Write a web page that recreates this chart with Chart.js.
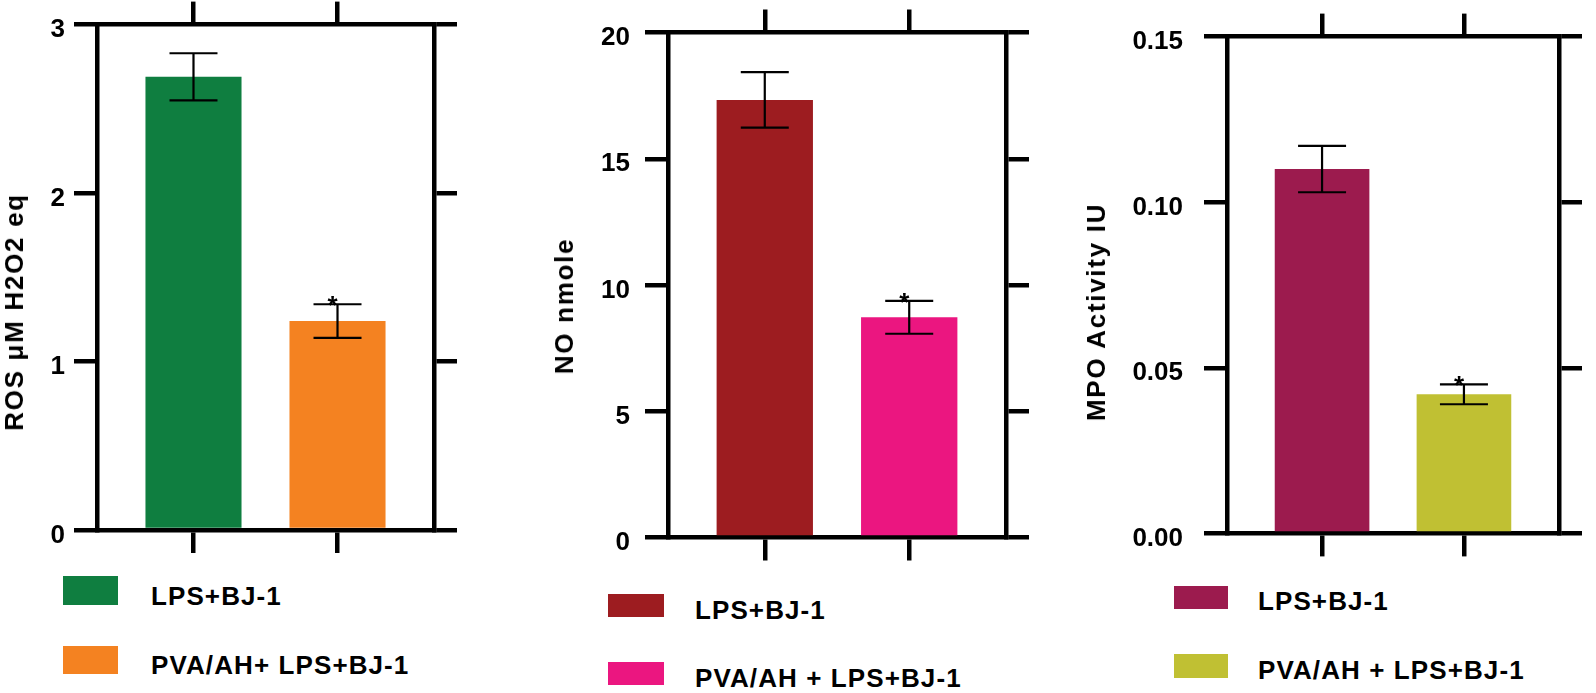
<!DOCTYPE html>
<html>
<head>
<meta charset="utf-8">
<script src="https://cdn.jsdelivr.net/npm/chart.js@4.4.1/dist/chart.umd.min.js"></script>
<style>
  html, body { margin: 0; padding: 0; background: #fff; }
  #wrap { position: relative; width: 1596px; height: 693px; overflow: hidden;
          font-family: "Liberation Sans", Arial, sans-serif; font-weight: bold; color: #000; }
  canvas { position: absolute; top: 0; }
  .ytitle { position: absolute; font-size: 26px; line-height: 26px; letter-spacing: 1.7px;
            white-space: nowrap; transform: translate(-50%, -50%) rotate(-90deg); }
  .swatch { position: absolute; }
  .ltext { position: absolute; font-size: 26px; line-height: 26px; letter-spacing: 1.1px; white-space: nowrap; }
</style>
</head>
<body>
<div id="wrap">
  <canvas id="chart1" width="470" height="560" style="left:0px"></canvas>
  <canvas id="chart2" width="500" height="570" style="left:540px"></canvas>
  <canvas id="chart3" width="496" height="570" style="left:1100px"></canvas>
</div>
<script>
// groups (legend entries, one bar each)
var groupsRos = ['LPS+BJ-1', 'PVA/AH+ LPS+BJ-1'];
var groupsNo = ['LPS+BJ-1', 'PVA/AH + LPS+BJ-1'];
var groupsMpo = ['LPS+BJ-1', 'PVA/AH + LPS+BJ-1'];

// means and error (+/-)
var rosMean = [2.69, 1.24];
var rosErr = [0.14, 0.10];
var noMean = [17.33, 8.72];
var noErr = [1.1, 0.65];
var mpoMean = [0.110, 0.042];
var mpoErr = [0.007, 0.003];
var starred = [false, true];

// y tick labels
var rosTicks = [0, 1, 2, 3];
var noTicks = [0, 5, 10, 15, 20];
var mpoTicks = [0, 0.05, 0.10, 0.15];

var rosColors = ['#0F7E40', '#F48221'];
var noColors = ['#9D1C20', '#EB1680'];
var mpoColors = ['#9C1B4E', '#C0C033'];

Chart.defaults.font.family = '"Liberation Sans", Arial, sans-serif';
Chart.defaults.color = '#000';

var errorBars = {
    id: 'errorBars',
    afterDatasetsDraw: function(chart, args, opts) {
        var ctx = chart.ctx;
        var y = chart.scales.y;
        var ds = chart.data.datasets[0];
        chart.getDatasetMeta(0).data.forEach(function(bar, i) {
            var v = ds.data[i].y;
            var top = y.getPixelForValue(v + opts.errors[i]);
            var bot = y.getPixelForValue(v - opts.errors[i]);
            ctx.save();
            ctx.strokeStyle = '#000';
            ctx.lineWidth = 2.2;
            ctx.beginPath();
            ctx.moveTo(bar.x, top); ctx.lineTo(bar.x, bot);
            ctx.moveTo(bar.x - 24, top); ctx.lineTo(bar.x + 24, top);
            ctx.moveTo(bar.x - 24, bot); ctx.lineTo(bar.x + 24, bot);
            ctx.stroke();
            if (opts.stars[i]) {
                ctx.fillStyle = '#000';
                ctx.font = 'bold 26px "Liberation Sans", Arial, sans-serif';
                ctx.textAlign = 'center';
                ctx.textBaseline = 'alphabetic';
                ctx.fillText('*', bar.x - 5, top + 10);
            }
            ctx.restore();
        });
    }
};

function axis(pos, min, max, tickVals, size, labels, pad, fmt) {
    return {
        type: 'linear',
        position: pos,
        min: min,
        max: max,
        offset: false,
        afterBuildTicks: function(s) {
            s.ticks = tickVals.map(function(v) { return { value: v }; });
        },
        afterFit: function(s) {
            if (s.isHorizontal()) s.height = size; else s.width = size;
        },
        grid: { offset: false, drawOnChartArea: false, drawTicks: true, tickLength: 23,
                lineWidth: 4.5, color: '#000' },
        border: { display: true, width: 4.5, color: '#000' },
        ticks: {
            display: labels,
            padding: pad,
            labelOffset: 5.5,
            font: { size: 26, weight: 'bold' },
            color: '#000',
            callback: function(v) { return fmt ? fmt(v) : v; }
        }
    };
}

function makePanel(id, groups, means, errs, colors, yTicks, lay, fmt) {
    var idx = groups.map(function(g, i) { return i; });
    var yMax = yTicks[yTicks.length - 1];
    var chart = new Chart(document.getElementById(id).getContext('2d'), {
        type: 'bar',
        data: {
            datasets: [{
                data: means.map(function(m, i) { return { x: i, y: m }; }),
                backgroundColor: colors,
                borderWidth: 0,
                categoryPercentage: 1,
                barPercentage: 0.667
            }]
        },
        options: {
            responsive: false,
            animation: false,
            devicePixelRatio: 1,
            events: [],
            layout: { padding: 0 },
            plugins: {
                legend: { display: false },
                tooltip: { enabled: false },
                errorBars: { errors: errs, stars: starred }
            },
            scales: {
                x: axis('bottom', -0.67, 1.67, idx, lay.bottom, false, 0),
                x2: axis('top', -0.67, 1.67, idx, lay.top, false, 0),
                y: axis('left', 0, yMax, yTicks, lay.left, true, lay.pad, fmt),
                y2: axis('right', 0, yMax, yTicks, lay.right, false, 0)
            }
        },
        plugins: [errorBars]
    });

    var wrap = document.getElementById('wrap');
    var t = document.createElement('div');
    t.className = 'ytitle';
    t.textContent = lay.title;
    t.style.left = lay.titleX + 'px';
    t.style.top = lay.titleY + 'px';
    wrap.appendChild(t);

    groups.forEach(function(g, i) {
        var sw = document.createElement('div');
        sw.className = 'swatch';
        sw.style.background = colors[i];
        sw.style.left = lay.boxX + 'px';
        sw.style.top = lay.boxY[i] + 'px';
        sw.style.width = lay.boxW + 'px';
        sw.style.height = lay.boxH[i] + 'px';
        wrap.appendChild(sw);
        var tx = document.createElement('div');
        tx.className = 'ltext';
        tx.textContent = g;
        tx.style.left = lay.textX + 'px';
        tx.style.top = (lay.base[i] - 22) + 'px';
        wrap.appendChild(tx);
    });
    return chart;
}

var chart1 = makePanel('chart1', groupsRos, rosMean, rosErr, rosColors, rosTicks, {
    left: 97, right: 36, top: 24, bottom: 30, pad: 9,
    title: 'ROS \u03bcM H2O2 eq', titleX: 13.5, titleY: 311.5,
    boxX: 63, boxY: [576, 646], boxW: 55, boxH: [29, 28], textX: 151, base: [605, 674]
});

var chart2 = makePanel('chart2', groupsNo, noMean, noErr, noColors, noTicks, {
    left: 128, right: 34, top: 32.5, bottom: 32.5, pad: 15,
    title: 'NO nmole', titleX: 564, titleY: 305.5,
    boxX: 608, boxY: [594, 662], boxW: 56, boxH: [23, 23], textX: 695, base: [619, 687]
});

var chart3 = makePanel('chart3', groupsMpo, mpoMean, mpoErr, mpoColors, mpoTicks, {
    left: 127, right: 37, top: 26.5, bottom: 32.5, pad: 21,
    title: 'MPO Activity IU', titleX: 1096, titleY: 311.5,
    boxX: 1174, boxY: [586, 654], boxW: 54, boxH: [23, 24], textX: 1258, base: [610, 679]
}, function(v) { return v.toFixed(2); });
</script>
</body>
</html>
